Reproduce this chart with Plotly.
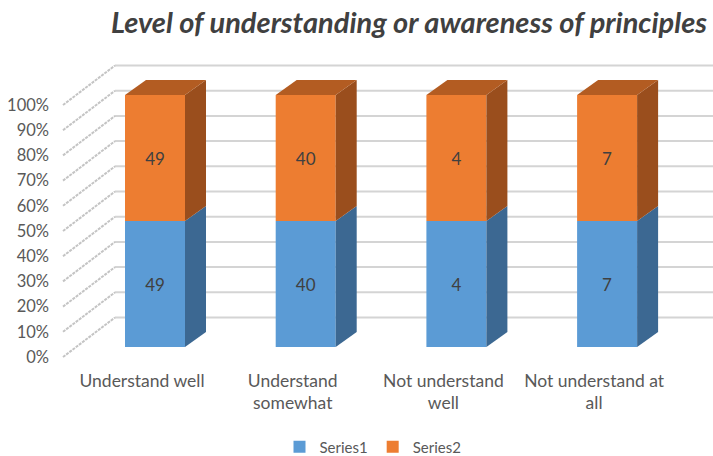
import plotly.graph_objects as go

# ---- data ----
categories = ["Understand well", "Understand<br>somewhat", "Not understand<br>well", "Not understand at<br>all"]
series1 = [49, 40, 4, 7]
series2 = [49, 40, 4, 7]
series_names = ["Series1", "Series2"]
y_ticks = [0, 10, 20, 30, 40, 50, 60, 70, 80, 90, 100]
title_text = "Level of understanding or awareness of principles"

# ---- styling / projection (pixel-derived) ----
W, H = 713, 456
ML, MR, MT, MB = 60, 0, 50, 96
plot_w = W - ML - MR
plot_h = H - MT - MB
px_per_cat = 150.7
px_per_unit = 2.52
x0_px = 142 - ML  # pixel offset of category 0 inside plot area
x_range = [-x0_px / px_per_cat, (plot_w - x0_px) / px_per_cat]
y_bottom = -(H - MB - 357) / px_per_unit
y_range = [y_bottom, y_bottom + plot_h / px_per_unit]

def dxp(p):
    return p / px_per_cat

def dyp(p):
    return p / px_per_unit

bar_dx, bar_dy = dxp(13), dyp(10)     # front face of bars vs floor front
depth_dx, depth_dy = dxp(21), dyp(15)  # bar depth
wall_dx, wall_dy = dxp(52), dyp(39.5)  # back wall vs floor front
bar_w = dxp(60)
wall_left = dxp(63 - 142)

c_front = ["#5B9BD5", "#ED7D31"]
c_side = ["#3C6892", "#9A4E1D"]
c_top = ["#4A7EAF", "#B35C22"]
txt_color = "#404040"
font = "Lato"

fig = go.Figure()

# percentages
pcts = []
for a, b in zip(series1, series2):
    tot = a + b
    pcts.append((100 * a / tot, 100 * b / tot))

xs = [i + bar_dx for i in range(len(categories))]

# front faces (bars)
for s, (vals, name) in enumerate(zip([series1, series2], series_names)):
    bases = [bar_dy + (0 if s == 0 else p[0]) for p in pcts]
    heights = [p[s] for p in pcts]
    fig.add_trace(go.Bar(
        x=xs, y=heights, base=bases, width=bar_w, name=name,
        marker=dict(color=c_front[s], line=dict(width=0)),
        text=[str(v) for v in vals], textposition="inside",
        insidetextanchor="middle", textangle=0, constraintext="none",
        textfont=dict(family=font, size=17, color=txt_color),
        hoverinfo="skip",
    ))

# side and top faces
for i, p in enumerate(pcts):
    xr = xs[i] + bar_w / 2
    xl = xs[i] - bar_w / 2
    cum = 0
    for s in range(2):
        y0 = bar_dy + cum
        y1 = bar_dy + cum + p[s]
        fig.add_trace(go.Scatter(
            x=[xr, xr + depth_dx, xr + depth_dx, xr, xr],
            y=[y0, y0 + depth_dy, y1 + depth_dy, y1, y0],
            fill="toself", fillcolor=c_side[s], mode="lines",
            line=dict(width=0, color=c_side[s]), showlegend=False, hoverinfo="skip",
        ))
        cum += p[s]
    top = bar_dy + cum
    fig.add_trace(go.Scatter(
        x=[xl, xl + depth_dx, xr + depth_dx, xr, xl],
        y=[top, top + depth_dy, top + depth_dy, top, top],
        fill="toself", fillcolor=c_top[1], mode="lines",
        line=dict(width=0, color=c_top[1]), showlegend=False, hoverinfo="skip",
    ))

# back wall gridlines and side wall diagonals
shapes = []
for t in y_ticks:
    shapes.append(dict(type="line", xref="x", yref="y", layer="below",
                       x0=wall_left + wall_dx, x1=x_range[1], y0=t + wall_dy, y1=t + wall_dy,
                       line=dict(color="#D4D4D4", width=2)))
    shapes.append(dict(type="line", xref="x", yref="y", layer="below",
                       x0=wall_left, x1=wall_left + wall_dx, y0=t, y1=t + wall_dy,
                       line=dict(color="#C4C4C4", width=2, dash="3px,1px")))

fig.update_layout(
    width=W, height=H,
    margin=dict(l=ML, r=MR, t=MT, b=MB),
    paper_bgcolor="white", plot_bgcolor="white",
    barmode="overlay",
    shapes=shapes,
    title=dict(text="<b><i>" + title_text + "</i></b>", xref="container", x=409 / W,
               xanchor="center", y=1 - 23 / H, yanchor="middle",
               font=dict(family=font, size=29, color="#404040")),
    xaxis=dict(range=x_range, tickmode="array", tickvals=list(range(len(categories))),
               ticktext=categories, showgrid=False, zeroline=False, showline=False,
               ticks="", ticklabelstandoff=8,
               tickfont=dict(family=font, size=17.5, color="#595959")),
    yaxis=dict(range=y_range, tickmode="array", tickvals=y_ticks,
               ticktext=[f"{t}%" for t in y_ticks], showgrid=False, zeroline=False,
               showline=False, ticks="", ticklabelstandoff=10,
               tickfont=dict(family=font, size=16.5, color="#595959")),
    legend=dict(orientation="h", xref="container", x=373 / W, xanchor="center",
                yref="container", y=1 - 447 / H, yanchor="middle",
                font=dict(family=font, size=15, color="#595959"),
                itemwidth=30, tracegroupgap=0),
    showlegend=True,
)

fig.write_html("out.html")
